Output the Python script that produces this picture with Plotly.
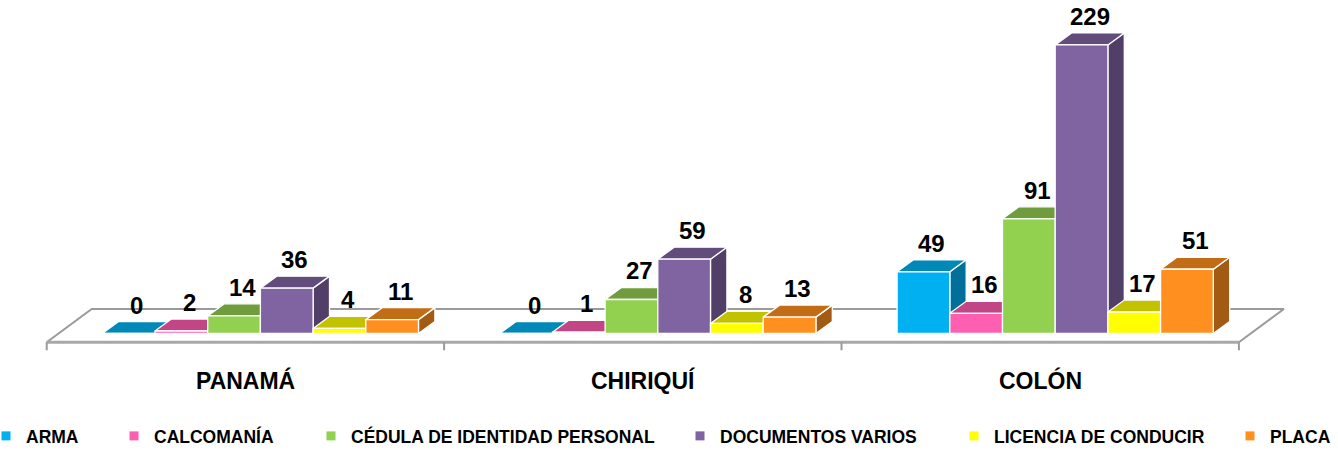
import plotly.graph_objects as go

# ---------------- data ----------------
categories = ["PANAMÁ", "CHIRIQUÍ", "COLÓN"]
series_names = ["ARMA", "CALCOMANÍA", "CÉDULA DE IDENTIDAD PERSONAL",
                "DOCUMENTOS VARIOS", "LICENCIA DE CONDUCIR", "PLACA"]
arma = [0, 0, 49]
calcomania = [2, 1, 16]
cedula = [14, 27, 91]
documentos = [36, 59, 229]
licencia = [4, 8, 17]
placa = [11, 13, 51]
series_values = [arma, calcomania, cedula, documentos, licencia, placa]

# ---------------- style ----------------
front_colors = ["#00B0F0", "#FF5FB0", "#92D050", "#8064A2", "#FFFF00", "#FF8F1F"]
top_colors = ["#0088B9", "#C24585", "#6F9C3D", "#624C7C", "#C2C200", "#C26C16"]
side_colors = ["#00709A", "#A03A6E", "#5C8233", "#513F67", "#A0A000", "#A35A12"]

W, H = 1338, 450
X0, SX = 46.7, 397.4      # pixel of category-axis origin, pixels per category
Y0, SY = 333.5, 1.26      # pixel of value zero, pixels per unit
FLOOR_FRONT_PX = 342.3
FLOOR_DX, FLOOR_DY = 45.0, 33.3   # floor depth (px)
BAR_DX, BAR_DY = 16.4, 12.0       # bar depth (px)
BAR_W = 52.7                      # bar width (px)
GROUP_SHIFT = 15.0                # group offset to the right (px)
TICK_LEN = 8.0
FONT = "Liberation Sans"


def ux(px):
    return px / SX


def vy(px):
    return px / SY


fig = go.Figure()

# ---------------- floor ----------------
vf = (Y0 - FLOOR_FRONT_PX) / SY
n = len(categories)
fx0, fx1 = 0.0, float(n)
fdx, fdy = ux(FLOOR_DX), vy(FLOOR_DY)
fig.add_trace(go.Scatter(
    x=[fx0, fx0 + fdx, fx1 + fdx, fx1],
    y=[vf, vf + fdy, vf + fdy, vf],
    mode="lines", line=dict(color="#9A9A9A", width=2),
    hoverinfo="skip", showlegend=False))
fig.add_trace(go.Scatter(
    x=[fx0, fx1], y=[vf, vf], mode="lines",
    line=dict(color="#A8A8A8", width=3), hoverinfo="skip", showlegend=False))
tick_x, tick_y = [], []
for k in range(n + 1):
    tick_x += [k, k, None]
    tick_y += [vf, vf - vy(TICK_LEN), None]
fig.add_trace(go.Scatter(x=tick_x, y=tick_y, mode="lines",
                         line=dict(color="#9A9A9A", width=2),
                         hoverinfo="skip", showlegend=False))

# ---------------- 3D bars ----------------
ns = len(series_values)
bw = ux(BAR_W)
bdx, bdy = ux(BAR_DX), vy(BAR_DY)
edge = dict(color="white", width=1.3)
annotations = []
for i in range(n):
    left0 = i + 0.5 + ux(GROUP_SHIFT) - ns / 2 * bw
    for j in range(ns):
        v = series_values[j][i]
        x0 = left0 + j * bw
        x1 = x0 + bw
        # side face
        fig.add_trace(go.Scatter(
            x=[x1, x1 + bdx, x1 + bdx, x1, x1],
            y=[0, bdy, v + bdy, v, 0],
            fill="toself", fillcolor=side_colors[j], mode="lines", line=edge,
            hoverinfo="skip", showlegend=False))
        # top face
        fig.add_trace(go.Scatter(
            x=[x0, x1, x1 + bdx, x0 + bdx, x0],
            y=[v, v, v + bdy, v + bdy, v],
            fill="toself", fillcolor=top_colors[j], mode="lines", line=edge,
            hoverinfo="skip", showlegend=False))
        # front face
        fig.add_trace(go.Scatter(
            x=[x0, x1, x1, x0, x0],
            y=[0, 0, v, v, 0],
            fill="toself", fillcolor=front_colors[j], mode="lines", line=edge,
            hoverinfo="skip", showlegend=False))
        annotations.append(dict(
            x=(x0 + x1) / 2 + bdx / 2, y=v + bdy, xref="x", yref="y",
            text=str(v), showarrow=False, yanchor="bottom", xanchor="center",
            yshift=1, font=dict(family=FONT, size=24, color="black", weight="bold")))

# category labels
for i, c in enumerate(categories):
    annotations.append(dict(
        x=i + 0.5, y=(Y0 - 380) / SY, xref="x", yref="y", text=c,
        showarrow=False, xanchor="center", yanchor="middle",
        font=dict(family=FONT, size=23, color="black", weight="bold")))

# ---------------- legend (one legend box per entry) ----------------
legend_text_start_px = [22, 150, 347, 716, 990, 1266]
layout_legends = {}
for j, name in enumerate(series_names):
    key = "legend" if j == 0 else f"legend{j + 1}"
    fig.add_trace(go.Scatter(
        x=[None], y=[None], mode="markers", name=name,
        marker=dict(symbol="square", size=9, color=front_colors[j]),
        legend=key, showlegend=True))
    layout_legends[key] = dict(
        x=(legend_text_start_px[j] - 36) / W, y=1 - 436 / H,
        xanchor="left", yanchor="middle", orientation="h",
        bgcolor="rgba(0,0,0,0)", borderwidth=0,
        font=dict(family=FONT, size=17.5, color="black", weight="bold"))

fig.update_layout(
    width=W, height=H,
    margin=dict(l=0, r=0, t=0, b=0, autoexpand=False),
    paper_bgcolor="white", plot_bgcolor="white",
    xaxis=dict(range=[(0 - X0) / SX, (W - X0) / SX], visible=False, fixedrange=True),
    yaxis=dict(range=[(Y0 - H) / SY, Y0 / SY], visible=False, fixedrange=True),
    annotations=annotations,
    hovermode=False,
    **layout_legends,
)

fig.write_html("out.html", config={"displayModeBar": False},
               post_script="document.body.style.margin='0';")
